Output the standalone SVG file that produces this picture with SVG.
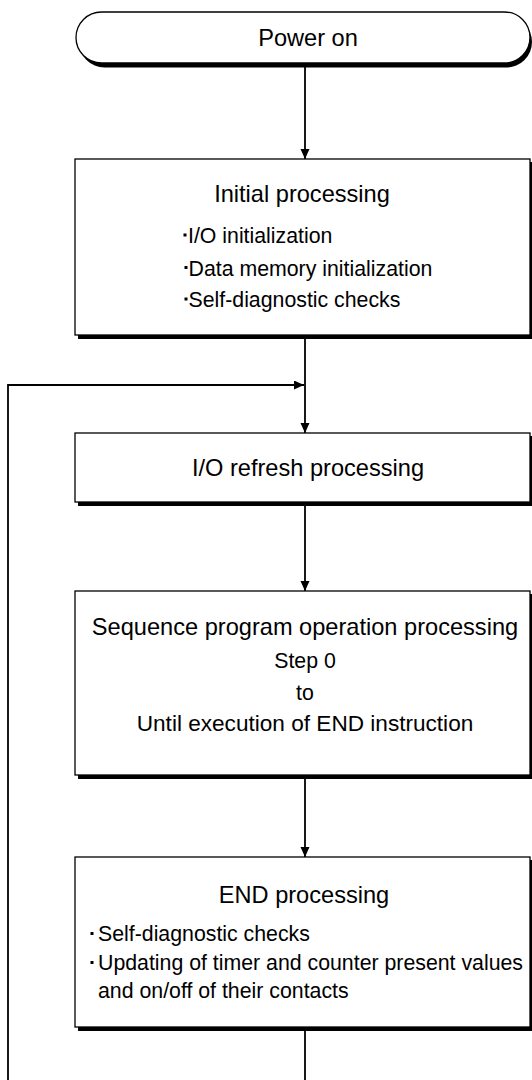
<svg xmlns="http://www.w3.org/2000/svg" width="532" height="1080" viewBox="0 0 532 1080">
<style>
.shadow{fill:#000}
.box{fill:#fff;stroke:#000;stroke-width:1.3}
.h{font-family:"Liberation Sans",Arial,sans-serif;font-size:23.6px;fill:#000;text-anchor:middle}
.b{font-family:"Liberation Sans",Arial,sans-serif;font-size:21.3px;fill:#000}
.c{text-anchor:middle}
.bul{fill:#000}
.conn{fill:none;stroke:#000;stroke-width:1.8}
</style>
<defs>
<marker id="arr" markerUnits="userSpaceOnUse" markerWidth="12" markerHeight="12" refX="10" refY="4.5" orient="auto">
<path d="M0,0 L10,4.5 L0,9 z" fill="#000"/>
</marker>
</defs>
<rect width="532" height="1080" fill="#fff"/>
<g id="connectors">
<path class="conn" d="M305,67 V159" marker-end="url(#arr)"/>
<path class="conn" d="M305,338 V433" marker-end="url(#arr)"/>
<path class="conn" d="M8,1080 V385 H304" marker-end="url(#arr)"/>
<path class="conn" d="M305,506 V591" marker-end="url(#arr)"/>
<path class="conn" d="M305,779 V857" marker-end="url(#arr)"/>
<path class="conn" d="M305,1031 V1080"/>
</g>
<g id="power-on">
<rect class="shadow" x="79" y="16.5" width="453" height="51" rx="25.5"/>
<rect class="box" x="76" y="12" width="454" height="51" rx="25.5"/>
<text class="h" x="308" y="46">Power on</text>
</g>
<g id="initial-processing">
<rect class="shadow" x="78" y="162" width="455" height="177"/>
<rect class="box" x="75" y="159" width="455" height="176"/>
<text class="h" x="302" y="202">Initial processing</text>
<rect class="bul" x="183.5" y="233.5" width="3" height="3"/>
<text class="b" x="188" y="243">I/O initialization</text>
<rect class="bul" x="184.5" y="266" width="3" height="3"/>
<text class="b" x="188.5" y="275.5">Data memory initialization</text>
<rect class="bul" x="184.5" y="297.5" width="3" height="3"/>
<text class="b" x="188.5" y="307">Self-diagnostic checks</text>
</g>
<g id="io-refresh">
<rect class="shadow" x="78" y="436" width="455" height="70"/>
<rect class="box" x="75" y="433" width="455" height="69"/>
<text class="h" x="308" y="476">I/O refresh processing</text>
</g>
<g id="sequence-program">
<rect class="shadow" x="78" y="594" width="455" height="185"/>
<rect class="box" x="75" y="591" width="455" height="184"/>
<text class="h" x="305" y="635">Sequence program operation processing</text>
<text class="b c" x="305" y="668">Step 0</text>
<text class="b c" x="305" y="700">to</text>
<text class="b c" x="305" y="731" style="font-size:22.6px">Until execution of END instruction</text>
</g>
<g id="end-processing">
<rect class="shadow" x="78" y="860" width="455" height="171"/>
<rect class="box" x="75" y="857" width="455" height="170"/>
<text class="h" x="304" y="903">END processing</text>
<rect class="bul" x="90.5" y="932" width="3" height="3"/>
<text class="b" x="98" y="941">Self-diagnostic checks</text>
<rect class="bul" x="90.5" y="961" width="3" height="3"/>
<text class="b" x="98" y="970">Updating of timer and counter present values</text>
<text class="b" x="98" y="998">and on/off of their contacts</text>
</g>
</svg>
